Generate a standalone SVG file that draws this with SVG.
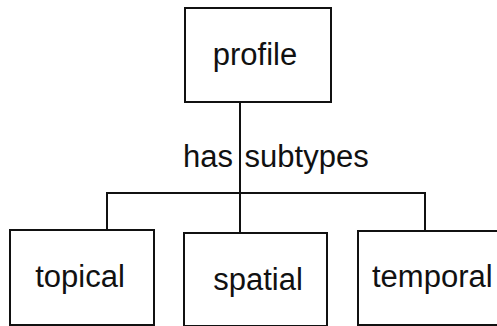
<svg xmlns="http://www.w3.org/2000/svg" width="497" height="326" viewBox="0 0 497 326">
<style>
.box{fill:#fff;stroke:#111;stroke-width:2}
.lbl{font-family:"Liberation Sans",Arial,sans-serif;font-size:31px;fill:#111}
.conn{fill:none;stroke:#111;stroke-width:2}
</style>
<rect width="497" height="326" fill="#fff"/>
<g id="connectors">
<line class="conn" x1="240" y1="102" x2="240" y2="233"/>
<polyline class="conn" points="107,230 107,193 425,193 425,231"/>
<text class="lbl" x="183" y="167" word-spacing="3">has subtypes</text>
</g>
<g id="profile">
<rect class="box" x="185" y="8" width="146" height="94"/>
<text class="lbl" x="255" y="65" text-anchor="middle">profile</text>
</g>
<g id="topical">
<rect class="box" x="10" y="230" width="144" height="95"/>
<text class="lbl" x="80" y="287" text-anchor="middle">topical</text>
</g>
<g id="spatial">
<rect class="box" x="184" y="233" width="143" height="93"/>
<text class="lbl" x="258" y="290" text-anchor="middle">spatial</text>
</g>
<g id="temporal">
<rect class="box" x="358" y="231" width="145" height="94"/>
<text class="lbl" x="372" y="287">temporal</text>
</g>
</svg>
